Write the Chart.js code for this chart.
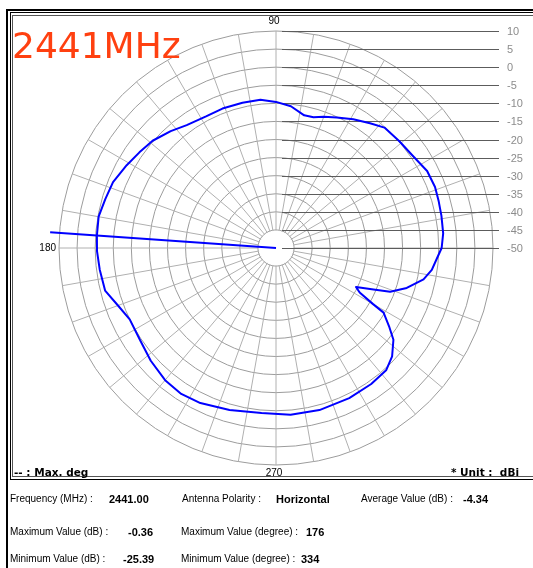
<!DOCTYPE html>
<html><head><meta charset="utf-8">
<script src="https://cdn.jsdelivr.net/npm/chart.js@4.4.1/dist/chart.umd.min.js"></script>
<style>
html,body{margin:0;padding:0;background:#fff;}
body{width:533px;height:568px;position:relative;overflow:hidden;font-family:"Liberation Sans",Arial,sans-serif;}
#c{position:absolute;left:0;top:0;}
.f{position:absolute;box-sizing:border-box;}
.t{position:absolute;white-space:nowrap;font-size:10px;line-height:12px;color:#000;}
.b{font-weight:bold;font-size:11px;}
.db{font-family:"DejaVu Sans",sans-serif;font-weight:bold;font-size:10.5px;}
#title{position:absolute;left:12px;top:28px;font-family:"DejaVu Sans",sans-serif;font-size:36px;line-height:36px;color:#ff4010;white-space:nowrap;}
</style></head>
<body>
<div class="f" style="left:6px;top:9px;width:600px;height:600px;border-left:2px solid #000;border-top:2px solid #000;"></div>
<div class="f" style="left:10px;top:12px;width:600px;height:468px;border:1px solid #000;"></div>
<div class="f" style="left:12px;top:15px;width:600px;height:462px;border:1px solid #555;"></div>
<canvas id="c" width="533" height="568"></canvas>
<div id="title">2441MHz</div>
<div class="t db" style="left:14px;top:466px;">-- : Max. deg</div>
<div class="t db" style="right:14px;top:466px;">* Unit :&nbsp; dBi</div>

<div class="t" style="left:10px;top:493px;">Frequency (MHz) :</div>
<div class="t b" style="left:109px;top:493px;">2441.00</div>
<div class="t" style="left:182px;top:493px;">Antenna Polarity :</div>
<div class="t b" style="left:276px;top:493px;">Horizontal</div>
<div class="t" style="left:361px;top:493px;">Average Value (dB) :</div>
<div class="t b" style="left:463px;top:493px;">-4.34</div>

<div class="t" style="left:10px;top:526px;">Maximum Value (dB) :</div>
<div class="t b" style="left:128px;top:526px;">-0.36</div>
<div class="t" style="left:181px;top:526px;">Maximum Value (degree) :</div>
<div class="t b" style="left:306px;top:526px;">176</div>

<div class="t" style="left:10px;top:553px;">Minimum Value (dB) :</div>
<div class="t b" style="left:123px;top:553px;">-25.39</div>
<div class="t" style="left:181px;top:553px;">Minimum Value (degree) :</div>
<div class="t b" style="left:301px;top:553px;">334</div>

<script>
// ---- data ----
const angleDeg = [0,5,11,16,21,27,34,41,48,53,59,65,70,74,78,84,90,96,103,111,118,126,132,139,145,151,158,164,170,176,181,187,194,200,206,214,222,230,237,244,254,265,275,285,296,305,312,317,322,325,329,330,332,334,337,339,343,348,352,356];
const gainDb   = [-4.2,-3.6,-3.4,-3.2,-2.9,-3.1,-4.4,-4.9,-5.2,-6.8,-8.5,-10.2,-11.4,-12.4,-12.5,-10.6,-9.6,-8.8,-8.8,-8.7,-8.8,-8.0,-6.5,-4.8,-3.9,-2.8,-1.4,-0.9,-0.2,-0.36,-0.5,-0.9,-1.3,-3.5,-5.0,-4.6,-3.4,-2.3,-1.9,-2.3,-3.4,-4.2,-3.7,-3.6,-3.8,-4.1,-4.5,-6.1,-8.8,-11.7,-15.3,-19.1,-23.8,-25.39,-20.7,-16.2,-12.2,-8.3,-6.5,-5.5];
const maxLineDeg = [176, 177];
const maxLineDb  = [12.6, -50];
const tickValues = [10,5,0,-5,-10,-15,-20,-25,-30,-35,-40,-45,-50];
const angleLabelDeg = [90,180,270];
const angleLabelText = ['90','180','270'];

// ---- build radar structure (index 0 at top, clockwise) ----
const N = 360;
const idxOf = a => ((90 - a) % 360 + 360) % 360;
const labels = Array.from({length:N}, (_, i) => String(((90 - i) % 360 + 360) % 360));
const traceData = new Array(N).fill(null);
angleDeg.forEach((a, k) => { traceData[idxOf(a)] = gainDb[k]; });
const maxData = new Array(N).fill(null);
maxLineDeg.forEach((a, k) => { maxData[idxOf(a)] = maxLineDb[k]; });

const overlay = {
  id: 'overlay',
  beforeDatasetsDraw(chart) {
    const s = chart.scales.r, ctx = chart.ctx;
    const cx = s.xCenter, cy = s.yCenter, R = s.drawingArea;
    ctx.save();
    const rh = s.getDistanceFromCenterForValue(-45);
    ctx.fillStyle = '#fff';
    ctx.beginPath(); ctx.arc(cx, cy, rh - 0.8, 0, Math.PI * 2); ctx.fill();
    ctx.strokeStyle = '#5c5c5c'; ctx.lineWidth = 1;
    ctx.font = '11px "Liberation Sans", Arial, sans-serif';
    ctx.fillStyle = '#8c8c8c'; ctx.textBaseline = 'middle'; ctx.textAlign = 'left';
    tickValues.forEach(v => {
      const y = Math.round(cy - s.getDistanceFromCenterForValue(v)) + 0.5;
      ctx.beginPath(); ctx.moveTo(cx + 6, y); ctx.lineTo(cx + R + 6, y); ctx.stroke();
      ctx.fillText(String(v), cx + R + 14, y);
    });
    ctx.font = '10px "Liberation Sans", Arial, sans-serif';
    ctx.fillStyle = '#000';
    const offs = [9.5, 3, 8];
    angleLabelDeg.forEach((a, k) => {
      const p = s.getPointPosition(idxOf(a), R + offs[k]);
      ctx.textAlign = a === 180 ? 'right' : 'center';
      ctx.fillText(angleLabelText[k], a === 180 ? p.x : p.x - 2, p.y);
    });
    ctx.restore();
  }
};

new Chart(document.getElementById('c'), {
  type: 'radar',
  data: {
    labels: labels,
    datasets: [
      { data: traceData, borderColor: '#0000ff', borderWidth: 2, pointRadius: 0, fill: false, spanGaps: true, tension: 0 },
      { data: maxData, borderColor: '#0000ff', borderWidth: 2, pointRadius: 0, fill: false, spanGaps: false, clip: false }
    ]
  },
  options: {
    responsive: false,
    animation: false,
    layout: { padding: { left: 59, right: 40, top: 31, bottom: 103 } },
    plugins: { legend: { display: false }, tooltip: { enabled: false } },
    elements: { line: { borderJoinStyle: 'round' } },
    scales: {
      r: {
        min: -50, max: 10,
        ticks: { stepSize: 5, display: false },
        grid: { circular: true, color: '#9c9c9c', lineWidth: 1 },
        angleLines: { color: '#b0b0b0', lineWidth: ctx => (ctx.index % 10 === 0 ? 1 : 0) },
        pointLabels: { display: false }
      }
    }
  },
  plugins: [overlay]
});
</script>
</body></html>
